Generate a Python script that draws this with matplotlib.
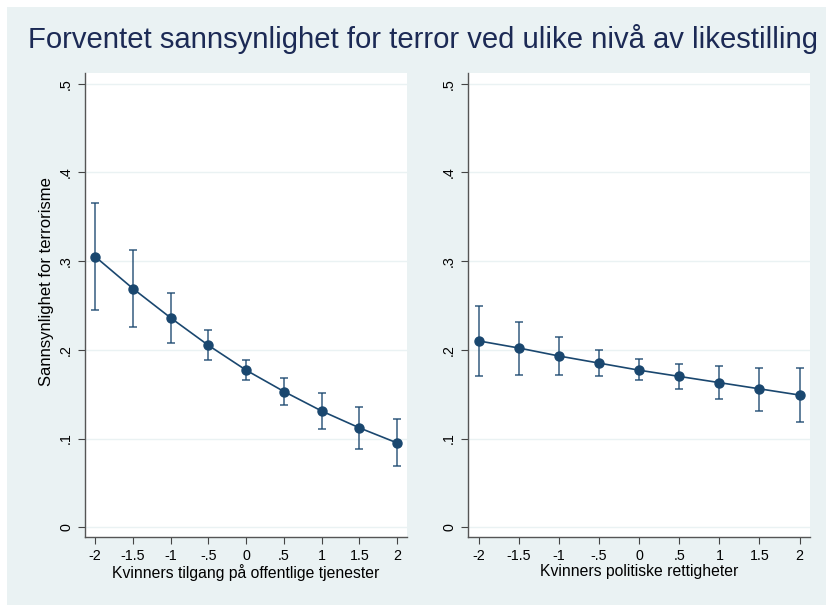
import numpy as np
import matplotlib.pyplot as plt

plt.rcParams['font.family'] = ['Liberation Sans', 'DejaVu Sans']

x = [-2, -1.5, -1, -0.5, 0, 0.5, 1, 1.5, 2]
x_labels = ["-2", "-1.5", "-1", "-.5", "0", ".5", "1", "1.5", "2"]
y_ticks = [0, 0.1, 0.2, 0.3, 0.4, 0.5]
y_labels = ["0", ".1", ".2", ".3", ".4", ".5"]

# venstre panel: tilgang på offentlige tjenester
tj_est = [0.305, 0.269, 0.236, 0.205, 0.177, 0.153, 0.131, 0.112, 0.095]
tj_lo = [0.245, 0.226, 0.208, 0.188, 0.166, 0.138, 0.111, 0.088, 0.069]
tj_hi = [0.366, 0.312, 0.264, 0.222, 0.189, 0.168, 0.151, 0.136, 0.122]

# høyre panel: politiske rettigheter
pr_est = [0.210, 0.202, 0.193, 0.185, 0.177, 0.170, 0.163, 0.156, 0.149]
pr_lo = [0.171, 0.172, 0.172, 0.170, 0.166, 0.156, 0.144, 0.131, 0.119]
pr_hi = [0.249, 0.231, 0.214, 0.200, 0.190, 0.184, 0.182, 0.180, 0.179]

navy = '#1a476f'
bg = '#eaf2f3'

fig = plt.figure(figsize=(8.26, 6.06), dpi=100)
fig.patch.set_facecolor('white')
fig.add_artist(plt.Rectangle((7 / 826, 0.002), 1, 1 - 7 / 606 - 0.002,
                             transform=fig.transFigure, facecolor=bg,
                             edgecolor='none', zorder=-10))
fig.text(0.5125, 0.935, "Forventet sannsynlighet for terror ved ulike nivå av likestilling",
         ha='center', va='center', fontsize=21.1, color='#1c2a55')

ax1 = fig.add_axes([85 / 826, 69 / 606, 322 / 826, 464 / 606])
ax2 = fig.add_axes([468 / 826, 69 / 606, 342 / 826, 464 / 606])


def panel(ax, est, lo, hi, xlabel):
    est = np.array(est)
    err = [est - np.array(lo), np.array(hi) - est]
    ax.errorbar(x, est, yerr=err, fmt='none', ecolor=navy, alpha=0.75,
                elinewidth=1.3, capsize=3, capthick=1.3, zorder=2)
    ax.plot(x, est, color=navy, lw=1.2, marker='o', markersize=6.5, zorder=3)
    ax.set_xlim(-2.135, 2.13)
    ax.set_ylim(-0.011, 0.512)
    ax.set_xticks(x)
    ax.set_xticklabels(x_labels)
    ax.set_yticks(y_ticks)
    ax.set_yticklabels(y_labels, rotation=90, va='center')
    ax.tick_params(axis='both', labelsize=10.3, length=5, width=0.8, color='#444444')
    ax.grid(axis='y', color=bg, lw=1)
    ax.set_axisbelow(True)
    for s in ['top', 'right']:
        ax.spines[s].set_visible(False)
    for s in ['left', 'bottom']:
        ax.spines[s].set_color('#555555')
        ax.spines[s].set_linewidth(1)
    ax.set_xlabel(xlabel, fontsize=11.3, labelpad=1)
    ax.set_facecolor('white')


panel(ax1, tj_est, tj_lo, tj_hi, "Kvinners tilgang på offentlige tjenester")
panel(ax2, pr_est, pr_lo, pr_hi, "Kvinners politiske rettigheter")
ax1.set_ylabel("Sannsynlighet for terrorisme", fontsize=12, labelpad=4)
ax1.yaxis.label.set_y(0.55)

plt.savefig("out.png", dpi=100)
